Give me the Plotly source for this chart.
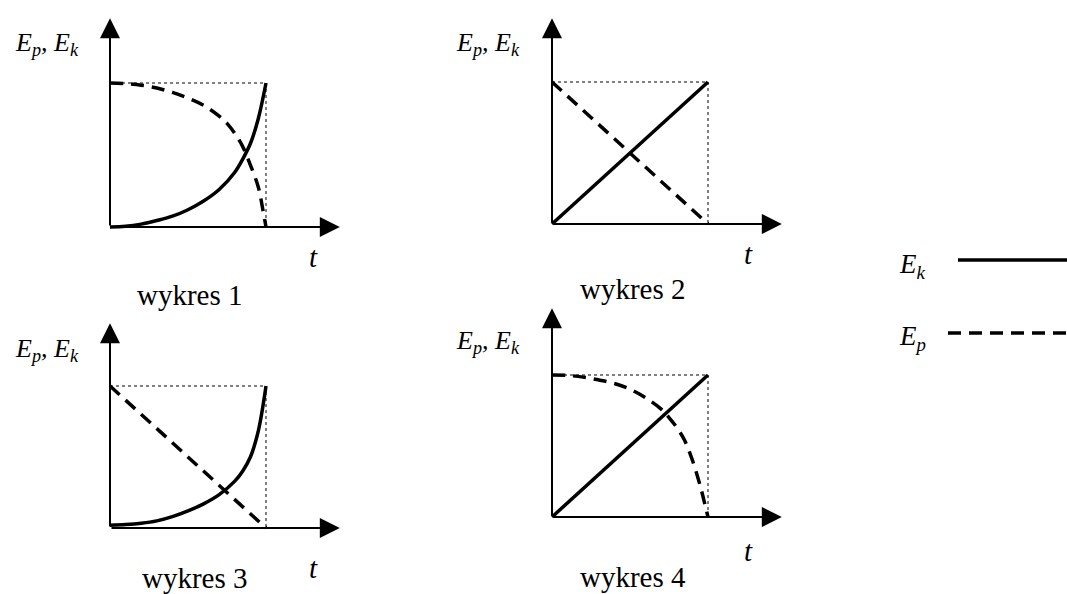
import plotly.graph_objects as go

W, H = 1067, 594

# ---------------- data (energy vs time, normalised) ----------------
box_t = [0, 1, 1]
box_e = [1, 1, 0]

lin_t = [0, 1]
lin_up = [0, 1]
lin_down = [1, 0]

convex_t = [0, 0.1, 0.2, 0.3, 0.4, 0.5, 0.6, 0.7, 0.8, 0.85, 0.9, 0.95, 1.0]
wykres1_ek = [0, 0.005, 0.02, 0.045, 0.075, 0.12, 0.18, 0.26, 0.38, 0.47, 0.58, 0.75, 1.0]
wykres3_ek = [0.02, 0.024, 0.033, 0.05, 0.08, 0.12, 0.17, 0.235, 0.33, 0.40, 0.5, 0.68, 1.0]

concave_t = [0, 0.1, 0.2, 0.3, 0.4, 0.5, 0.6, 0.7, 0.75, 0.8, 0.85, 0.9, 0.95, 0.98, 1.0]
wykres1_ep = [1, 0.995, 0.985, 0.965, 0.935, 0.895, 0.845, 0.77, 0.72, 0.65, 0.56, 0.43, 0.28, 0.12, 0]
wykres4_ep = [1, 0.997, 0.985, 0.965, 0.94, 0.90, 0.84, 0.76, 0.70, 0.63, 0.54, 0.40, 0.22, 0.09, 0]

titles = ["wykres 1", "wykres 2", "wykres 3", "wykres 4"]
y_label = "<i>E<sub>p</sub>, E<sub>k</sub></i>"
x_label = "<i>t</i>"
legend_labels = ["<i>E<sub>k</sub></i>", "<i>E<sub>p</sub></i>"]

panels = [
    dict(ek=(convex_t, wykres1_ek), ep=(concave_t, wykres1_ep)),
    dict(ek=(lin_t, lin_up), ep=(lin_t, lin_down)),
    dict(ek=(convex_t, wykres3_ek), ep=(lin_t, lin_down)),
    dict(ek=(lin_t, lin_up), ep=(concave_t, wykres4_ep)),
]

# ---------------- layout geometry (pixels) ----------------
# origin x, origin y, box right, box top, arrow x end, arrow y top
geo = [
    (110, 227, 266, 83, 345, 13),
    (552, 224, 708, 82, 787, 13),
    (110, 528, 266, 386, 345, 318),
    (552, 517, 708, 375, 787, 303),
]
label_pos = [(47, 44), (488, 44), (47, 350), (488, 342)]
t_pos = [(313, 257), (748, 254), (313, 568), (748, 551)]
title_pos = [(190, 295), (633, 289), (195, 578), (633, 577)]

FONT = "Liberation Serif"
M = 0.06  # margin below/left of origin in data units

fig = go.Figure()
layout = dict(width=W, height=H, margin=dict(l=0, r=0, t=0, b=0),
              paper_bgcolor="white", plot_bgcolor="rgba(0,0,0,0)",
              showlegend=False, annotations=[], shapes=[])

def px(x):
    return x / W

def py(y):
    return 1 - y / H

def text(x, y, s, size):
    return dict(x=px(x), y=py(y), xref="paper", yref="paper", text=s, showarrow=False,
                xanchor="center", yanchor="middle",
                font=dict(family=FONT, size=size, color="black"))

dash = "13px,8px"
for i, (p, g) in enumerate(zip(panels, geo)):
    ox, oy, br, bt, xe, yt = g
    sx = br - ox
    sy = oy - bt
    xmax = (xe - ox) / sx
    ymax = (oy - yt) / sy
    xa = "xaxis" if i == 0 else f"xaxis{i+1}"
    ya = "yaxis" if i == 0 else f"yaxis{i+1}"
    xr = "x" if i == 0 else f"x{i+1}"
    yr = "y" if i == 0 else f"y{i+1}"
    layout[xa] = dict(domain=[px(ox - M * sx), px(xe)], range=[-M, xmax],
                      visible=False, anchor=yr, fixedrange=True)
    layout[ya] = dict(domain=[py(oy + M * sy), py(yt)], range=[-M, ymax],
                      visible=False, anchor=xr, fixedrange=True)
    # dotted box
    fig.add_trace(go.Scatter(x=box_t, y=box_e, xaxis=xr, yaxis=yr, mode="lines",
                             line=dict(color="black", width=1, dash="dot"), hoverinfo="skip"))
    # Ep dashed
    fig.add_trace(go.Scatter(x=p["ep"][0], y=p["ep"][1], xaxis=xr, yaxis=yr, mode="lines",
                             line=dict(color="black", width=3.5, dash=dash, shape="spline"),
                             hoverinfo="skip"))
    # Ek solid
    fig.add_trace(go.Scatter(x=p["ek"][0], y=p["ek"][1], xaxis=xr, yaxis=yr, mode="lines",
                             line=dict(color="black", width=3.5, shape="spline"), hoverinfo="skip"))
    # axes arrows
    common = dict(xref=xr, yref=yr, axref=xr, ayref=yr, text="", showarrow=True,
                  arrowhead=2, arrowsize=2, arrowwidth=2, arrowcolor="black", standoff=0)
    layout["annotations"].append(dict(x=xmax - 5.2 / sx, y=0, ax=0, ay=0, **common))
    layout["annotations"].append(dict(x=0, y=ymax - 5.2 / sy, ax=0, ay=0, **common))
    # labels
    layout["annotations"].append(text(*label_pos[i], y_label, 26))
    layout["annotations"].append(text(*t_pos[i], x_label, 29))
    layout["annotations"].append(text(*title_pos[i], titles[i], 29))

# legend
leg = [(912, 266, 958, 260, "solid"), (912, 338, 948, 333, "13px,8px")]
for lab, (lx, ly, x0, yl, ds) in zip(legend_labels, leg):
    layout["annotations"].append(text(lx, ly, lab, 27))
    layout["shapes"].append(dict(type="line", xref="paper", yref="paper",
                                 x0=px(x0), x1=px(W + 5), y0=py(yl), y1=py(yl),
                                 line=dict(color="black", width=3.5, dash=ds)))

fig.update_layout(**layout)
fig.write_html("out.html", config={"displayModeBar": False},
               post_script="document.body.style.margin='0';")
